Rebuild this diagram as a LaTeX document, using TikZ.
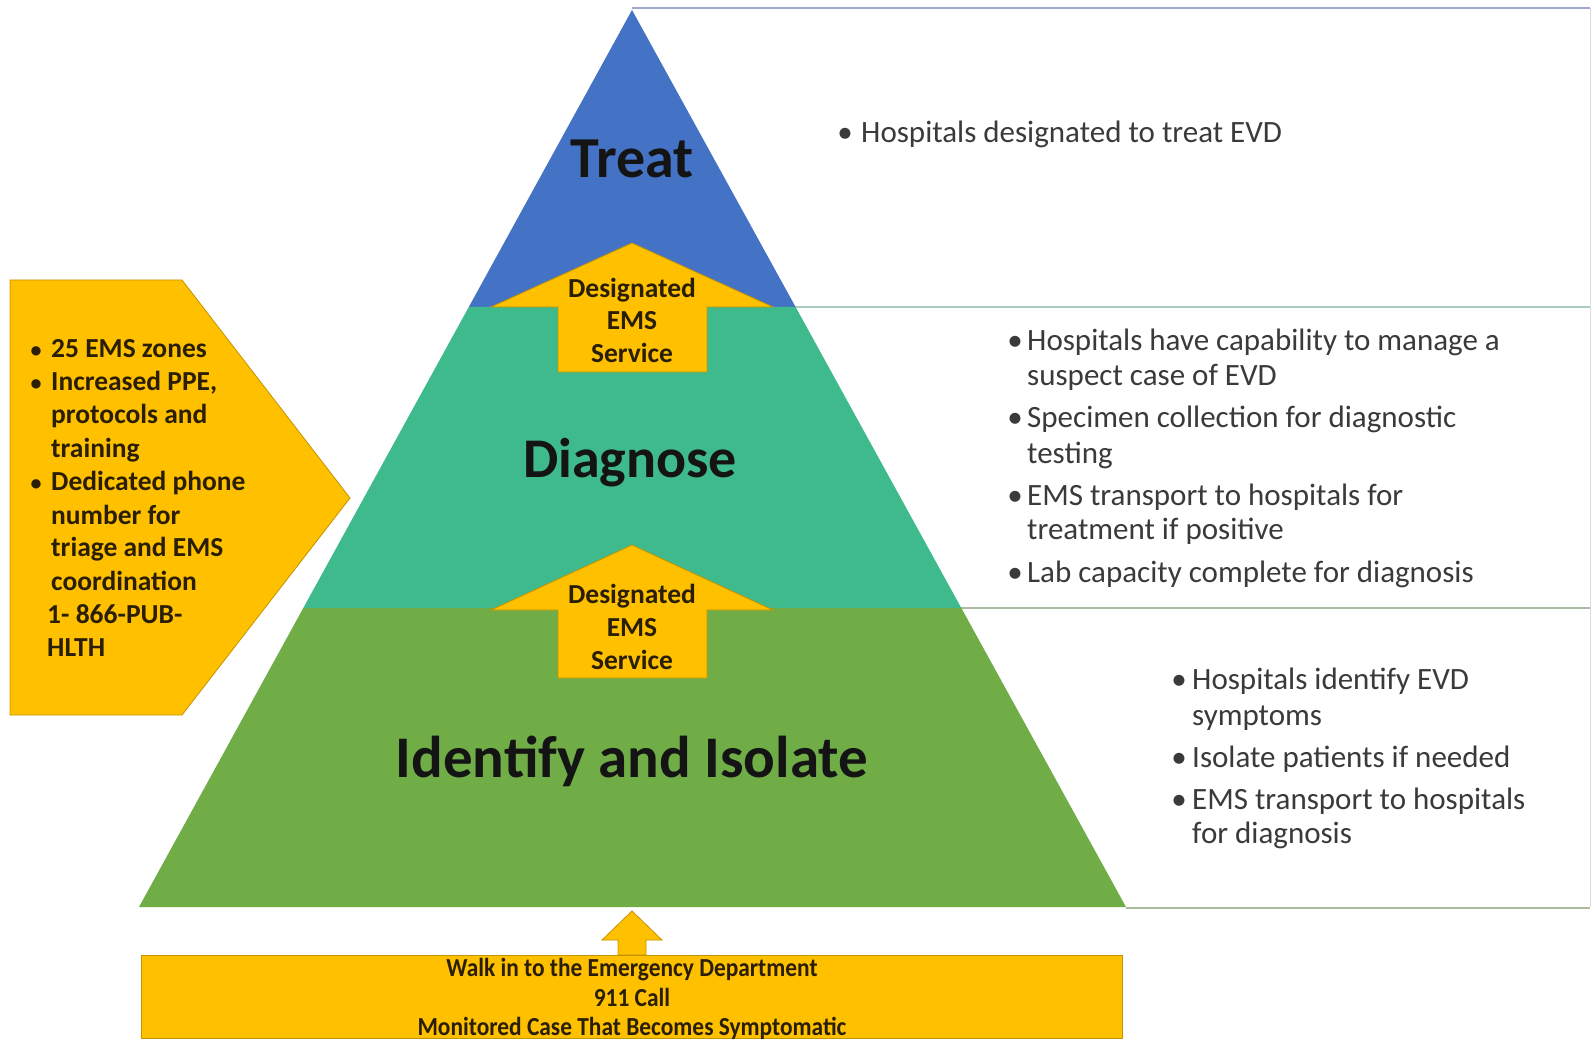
\documentclass[tikz,border=0pt]{standalone}
\usepackage{fontspec}
\usepackage{graphicx}
\setmainfont{Carlito}
\definecolor{tblue}{HTML}{4472C4}
\definecolor{tteal}{HTML}{3FBA8C}
\definecolor{tgreen}{HTML}{70AD47}
\definecolor{tgold}{HTML}{FFC000}
\definecolor{tgoldline}{HTML}{C29400}
\definecolor{ink}{HTML}{2A1E05}
\definecolor{titleink}{HTML}{141414}
\definecolor{notegray}{HTML}{3A3A3A}
\definecolor{lineblue}{HTML}{A0A9C9}
\definecolor{lineteal}{HTML}{A9CBC0}
\definecolor{linegreen}{HTML}{AABBA0}
\definecolor{lineside}{HTML}{DCDCDC}
\newcommand{\narrow}[1]{\scalebox{0.9}[1]{#1}}
\begin{document}
\begin{tikzpicture}[x=1pt,y=-1pt,
  title/.style={font=\bfseries\fontsize{56}{60}\selectfont, text=titleink, inner sep=0pt, anchor=base},
  emsline/.style={font=\bfseries\fontsize{27.5}{30}\selectfont, text=ink, inner sep=0pt, anchor=base},
  side/.style={font=\bfseries\fontsize{27.5}{30}\selectfont, text=ink, inner sep=0pt, anchor=base west},
  sidedot/.style={font=\bfseries\fontsize{22}{30}\selectfont, text=ink, inner sep=0pt, anchor=base},
  entryline/.style={font=\bfseries\fontsize{26}{30}\selectfont, text=ink, inner sep=0pt, anchor=base},
  note/.style={font=\fontsize{31}{35}\selectfont, text=notegray, inner sep=0pt, anchor=base west},
  notedot/.style={font=\fontsize{31}{35}\selectfont, text=notegray, inner sep=0pt, anchor=base},
  goldshape/.style={fill=tgold, draw=tgoldline, line width=0.8pt, line join=miter},
  panel/.style={line width=1.2pt},
]
\useasboundingbox (0,0) rectangle (1593,1040);
\fill[white] (0,0) rectangle (1593,1040);

% text panels beside the three tiers: faint right sides, tinted horizontal rules
\draw[lineside, line width=1pt] (1590,8) -- (1590,907);
\draw[panel, lineblue]  (632,8) -- (1590,8);
\draw[panel, lineteal]  (632,307) -- (1590,307);
\draw[panel, linegreen] (632,608) -- (1590,608);
\draw[panel, linegreen] (1126,908) -- (1590,908);

% pyramid tiers
\fill[tblue]  (632,10) -- (795.6,307) -- (468.8,307) -- cycle;
\fill[tteal]  (468.8,307) -- (795.6,307) -- (961.3,608) -- (303.3,608) -- cycle;
\fill[tgreen] (303.3,608) -- (961.3,608) -- (1126,907) -- (139,907) -- cycle;

% EMS block arrows between tiers
\path[goldshape] (632,243) -- (773,307) -- (707,307) -- (707,372) -- (558,372) -- (558,307) -- (491,307) -- cycle;
\path[goldshape] (632,545) -- (773,610) -- (707,610) -- (707,678) -- (558,678) -- (558,610) -- (491,610) -- cycle;
\node[emsline] (ua1) at (632,298) {Designated};
\node[emsline] (ua2) at (632,330) {EMS};
\node[emsline] (ua3) at (632,363) {Service};
\node[emsline] (la1) at (632,603) {Designated};
\node[emsline] (la2) at (632,636) {EMS};
\node[emsline] (la3) at (632,669) {Service};

% tier titles
\node[title, font=\bfseries\fontsize{58}{62}\selectfont] (treat) at (632,178) {Treat};
\node[title] (diagnose) at (630,477) {Diagnose};
\node[title, font=\bfseries\fontsize{59}{63}\selectfont] (identify) at (632,777) {Identify and Isolate};

% EMS chevron on the left
\path[goldshape] (10,280) -- (182,280) -- (350,498) -- (182,715) -- (10,715) -- cycle;
\node[sidedot] (sd1) at (36,357.5) {\textbullet};
\node[side] (s1) at (51,357.5) {25 EMS zones};
\node[sidedot] (sd2) at (36,391) {\textbullet};
\node[side] (s2) at (51,391) {Increased PPE,};
\node[side] (s3) at (51,423.5) {protocols and};
\node[side] (s4) at (51,457) {training};
\node[sidedot] (sd3) at (36,490.5) {\textbullet};
\node[side] (s5) at (51,490.5) {Dedicated phone};
\node[side] (s6) at (51,524) {number for};
\node[side] (s7) at (51,556.5) {triage and EMS};
\node[side] (s8) at (51,590) {coordination};
\node[side] (s9) at (47,623.5) {1- 866-PUB-};
\node[side] (s10) at (47,656) {HLTH};

% entry points and the arrow into the base tier
\coordinate (tipin) at (632,911);
\path[goldshape] (tipin) -- ++(30,29) -- ++(-16,0) -- ++(0,15) -- ++(-28,0) -- ++(0,-15) -- ++(-16,0) -- cycle;
\node[goldshape, minimum width=981pt, minimum height=83pt, inner sep=0pt, anchor=north west] (entry) at (141,955) {};
\node[entryline] (e1) at (632,976) {\narrow{Walk in to the Emergency Department}};
\node[entryline] (e2) at (632,1006) {\narrow{911 Call}};
\node[entryline] (e3) at (632,1035) {\narrow{Monitored Case That Becomes Symptomatic}};

% notes for the top tier
\node[notedot] (tb1) at (845,143) {\textbullet};
\node[note] (t1) at (861,143) {Hospitals designated to treat EVD};

% notes for the middle tier
\node[notedot] (mb1) at (1015,350.5) {\textbullet};
\node[note] (m1) at (1027,350.5) {Hospitals have capability to manage a};
\node[note] (m2) at (1027,386) {suspect case of EVD};
\node[notedot] (mb2) at (1015,428) {\textbullet};
\node[note] (m3) at (1027,428) {Specimen collection  for diagnostic};
\node[note] (m4) at (1027,463) {testing};
\node[notedot] (mb3) at (1015,505) {\textbullet};
\node[note] (m5) at (1027,505) {EMS transport to hospitals for};
\node[note] (m6) at (1027,539.5) {treatment if positive};
\node[notedot] (mb4) at (1015,582) {\textbullet};
\node[note] (m7) at (1027,582) {Lab capacity complete for diagnosis};

% notes for the base tier
\node[notedot] (bb1) at (1179,689) {\textbullet};
\node[note] (b1) at (1192,689) {Hospitals identify EVD};
\node[note] (b2) at (1192,725) {symptoms};
\node[notedot] (bb2) at (1179,767) {\textbullet};
\node[note] (b3) at (1192,767) {Isolate patients if needed};
\node[notedot] (bb3) at (1179,809) {\textbullet};
\node[note] (b4) at (1192,809) {EMS transport to hospitals};
\node[note] (b5) at (1192,843) {for diagnosis};
\end{tikzpicture}
\end{document}
